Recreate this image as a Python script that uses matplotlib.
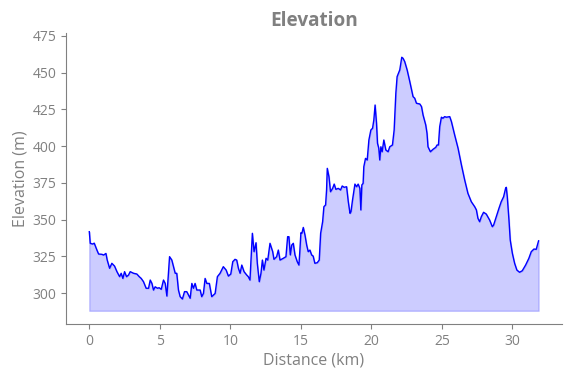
import matplotlib
matplotlib.use('Agg')
import matplotlib.pyplot as plt

plt.rcParams['font.family'] = ['Open Sans', 'DejaVu Sans']

# distance along the route (km) and elevation (m)
distance_km = [
    0.0, 0.07, 0.24, 0.35, 0.54, 0.66, 0.9, 1.01, 1.18, 1.27, 1.44, 1.6, 1.79, 1.96,
    2.15, 2.26, 2.38, 2.5, 2.64, 2.78, 2.9, 3.14, 3.37, 3.54, 3.68, 3.84, 4.03, 4.2,
    4.32, 4.44, 4.55, 4.67, 4.84, 4.95, 5.1, 5.26, 5.38, 5.5, 5.69, 5.85, 5.97, 6.09,
    6.2, 6.32, 6.44, 6.6, 6.75, 6.91, 7.03, 7.15, 7.27, 7.38, 7.5, 7.62, 7.74, 7.86,
    7.97, 8.09, 8.21, 8.33, 8.51, 8.68, 8.92, 9.08, 9.27, 9.5, 9.7, 9.86, 10.03, 10.17,
    10.33, 10.45, 10.57, 10.69, 10.81, 10.97, 11.16, 11.27, 11.39, 11.56, 11.68, 11.82,
    11.91, 12.05, 12.17, 12.27, 12.38, 12.53, 12.65, 12.81, 13.0, 13.09, 13.28, 13.4,
    13.52, 13.75, 13.94, 14.06, 14.15, 14.25, 14.35, 14.46, 14.58, 14.74, 14.86, 14.93,
    15.0, 15.07, 15.17, 15.29, 15.41, 15.52, 15.64, 15.76, 15.87, 15.99, 16.16, 16.3,
    16.4, 16.54, 16.63, 16.75, 16.82, 16.87, 16.99, 17.1, 17.25, 17.36, 17.48, 17.65,
    17.81, 17.93, 18.07, 18.24, 18.36, 18.48, 18.55, 18.66, 18.83, 18.95, 19.06, 19.18,
    19.25, 19.32, 19.41, 19.46, 19.58, 19.7, 19.82, 19.96, 20.08, 20.17, 20.26, 20.36,
    20.43, 20.52, 20.59, 20.67, 20.76, 20.88, 21.02, 21.18, 21.3, 21.49, 21.61, 21.73,
    21.82, 22.01, 22.15, 22.24, 22.36, 22.53, 22.72, 22.95, 23.07, 23.19, 23.43, 23.55,
    23.66, 23.85, 23.94, 24.01, 24.18, 24.37, 24.56, 24.65, 24.75, 24.84, 24.96, 25.07,
    25.19, 25.31, 25.55, 25.67, 25.9, 26.14, 26.38, 26.61, 26.84, 27.08, 27.32, 27.44,
    27.55, 27.67, 27.79, 27.95, 28.14, 28.38, 28.57, 28.66, 28.85, 29.04, 29.2, 29.37,
    29.51, 29.56, 29.63, 29.75, 29.84, 29.99, 30.15, 30.31, 30.5, 30.69, 30.93, 31.16,
    31.33, 31.52, 31.68, 31.85,
]
elevation_m = [
    341.8, 333.9, 333.4, 334.0, 329.3, 326.6, 326.4, 325.9, 327.0, 322.5, 316.9, 320.3, 318.4, 314.6,
    311.2, 313.5, 310.0, 314.6, 311.2, 312.3, 314.6, 313.5, 313.0, 311.2, 310.0, 307.8, 303.3, 303.3,
    308.9, 306.6, 302.1, 304.3, 303.3, 303.7, 302.6, 308.9, 306.6, 298.0, 324.8, 322.5, 318.0, 313.5,
    313.5, 302.1, 297.6, 296.0, 301.0, 301.0, 298.7, 296.5, 306.6, 303.3, 306.6, 302.1, 302.1, 302.1,
    297.6, 299.8, 310.0, 306.6, 306.6, 297.6, 299.8, 311.2, 313.5, 318.0, 315.7, 311.6, 313.0, 321.4,
    323.0, 322.5, 316.9, 313.5, 319.1, 314.6, 312.3, 311.2, 308.9, 340.7, 328.2, 334.3,
    320.3, 307.8, 313.5, 322.5, 315.7, 323.7, 322.5, 333.9, 328.2, 323.0, 324.8, 329.3,
    322.5, 323.7, 324.8, 338.4, 338.4, 326.0, 332.7, 333.9, 326.0, 321.4, 319.1, 329.3,
    341.1, 340.7, 344.7, 339.5, 332.7, 328.2, 329.3, 326.0, 325.2, 320.3, 320.7, 322.5,
    340.7, 348.6, 358.8, 360.0, 370.2, 384.9, 379.2, 369.0, 371.3, 374.2, 370.6, 371.3,
    370.2, 372.9, 372.0, 372.4, 362.2, 354.3, 355.4, 363.4, 374.2, 372.4, 374.2, 371.3,
    356.6, 373.6, 374.7, 386.0, 391.7, 390.6, 404.2, 411.0, 412.2, 417.8, 428.0, 415.6,
    402.0, 398.6, 390.6, 399.6, 396.2, 404.2, 397.4, 396.2, 399.6, 400.8, 411.0, 436.0,
    447.3, 451.9, 460.5, 459.8, 457.5, 451.9, 443.9, 433.7, 432.6, 429.2, 428.7, 426.9,
    421.2, 414.4, 408.8, 399.6, 396.2, 397.9, 399.2, 400.8, 400.8, 413.3, 419.7, 419.0,
    420.1, 419.7, 420.1, 416.7, 407.6, 398.6, 387.2, 377.0, 367.9, 362.2, 358.8, 356.6,
    350.9, 348.6, 352.0, 355.0, 353.8, 349.7, 345.2, 346.3, 352.0, 357.7, 362.2, 365.6,
    371.3, 372.0, 365.6, 349.7, 336.1, 327.1, 320.3, 315.7, 314.2, 315.2, 319.1, 323.7,
    328.2, 330.0, 329.8, 335.6,
]
fill_base = 288

gray = '#808080'

fig = plt.figure(figsize=(5.71, 3.78), dpi=100)
ax = fig.add_axes([0.1156, 0.1429, 0.8684, 0.7698])

ax.plot(distance_km, elevation_m, color='blue', linewidth=1)
ax.fill_between(distance_km, elevation_m, fill_base, color='blue', alpha=0.2)

ax.set_xlim(-1.65, 33.5)
ax.set_ylim(279, 477)
ax.set_yticks([300, 325, 350, 375, 400, 425, 450, 475])
ax.set_xticks([0, 5, 10, 15, 20, 25, 30])

ax.set_title('Elevation', color=gray, fontsize=13.7, fontweight='bold', pad=5)
ax.set_xlabel('Distance (km)', color=gray, fontsize=11.5, labelpad=3)
ax.set_ylabel('Elevation (m)', color=gray, fontsize=11.5, labelpad=3)

for side in ['top', 'right']:
    ax.spines[side].set_visible(False)
for side in ['left', 'bottom']:
    ax.spines[side].set_color(gray)
ax.tick_params(colors=gray, labelcolor=gray, labelsize=10)

fig.savefig('out.png', dpi=100)
